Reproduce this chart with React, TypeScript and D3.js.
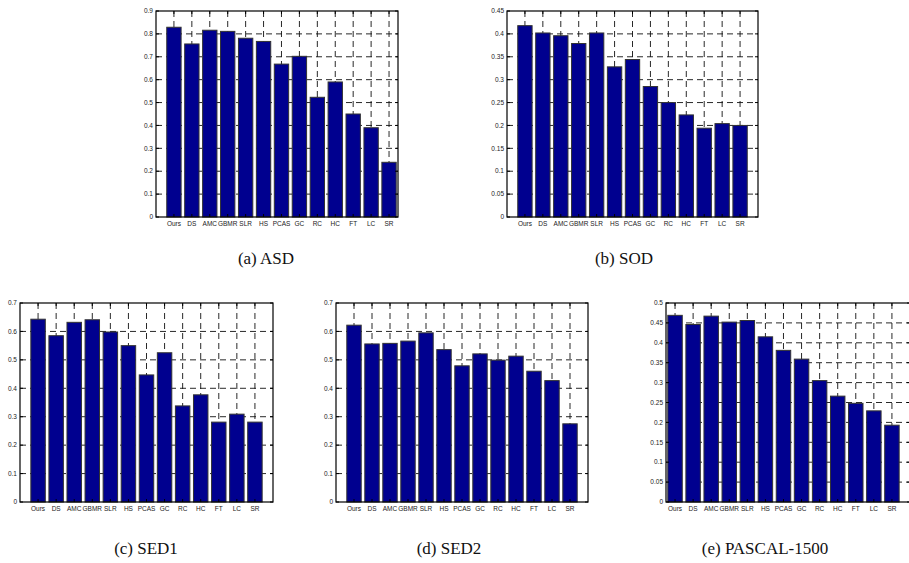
import * as d3 from "d3";

const categories = ["Ours", "DS", "AMC", "GBMR", "SLR", "HS", "PCAS", "GC", "RC", "HC", "FT", "LC", "SR"];

const asdValues = [0.829, 0.756, 0.816, 0.811, 0.781, 0.767, 0.668, 0.702, 0.523, 0.59, 0.45, 0.39, 0.239];
const sodValues = [0.418, 0.402, 0.396, 0.379, 0.402, 0.328, 0.344, 0.285, 0.25, 0.223, 0.194, 0.204, 0.2];
const sed1Values = [0.643, 0.585, 0.632, 0.641, 0.598, 0.55, 0.447, 0.525, 0.338, 0.377, 0.281, 0.309, 0.281];
const sed2Values = [0.622, 0.556, 0.558, 0.566, 0.595, 0.536, 0.479, 0.521, 0.499, 0.513, 0.46, 0.427, 0.275];
const pascalValues = [0.469, 0.446, 0.467, 0.452, 0.456, 0.415, 0.381, 0.359, 0.305, 0.266, 0.248, 0.229, 0.193];

const asdTicks = [0, 0.1, 0.2, 0.3, 0.4, 0.5, 0.6, 0.7, 0.8, 0.9];
const sodTicks = [0, 0.05, 0.1, 0.15, 0.2, 0.25, 0.3, 0.35, 0.4, 0.45];
const sedTicks = [0, 0.1, 0.2, 0.3, 0.4, 0.5, 0.6, 0.7];
const pascalTicks = [0, 0.05, 0.1, 0.15, 0.2, 0.25, 0.3, 0.35, 0.4, 0.45, 0.5];

const captions = ["(a) ASD", "(b) SOD", "(c) SED1", "(d) SED2", "(e) PASCAL-1500"];

// panel boxes + x limits (matlab style xlim)
const layout = [
  { left: 156, right: 398, top: 11, bottom: 217, xlim: [0, 13.5], cx: 266, cy: 264 },
  { left: 507, right: 758, top: 11, bottom: 217, xlim: [0, 14], cx: 624, cy: 264 },
  { left: 20, right: 273, top: 303, bottom: 502, xlim: [0, 14], cx: 146, cy: 554 },
  { left: 336, right: 588, top: 303, bottom: 502, xlim: [0, 14], cx: 449, cy: 554 },
  { left: 666, right: 910, top: 303, bottom: 502, xlim: [0.5, 14], cx: 765, cy: 554 },
];

const panels = [
  { values: asdValues, ticks: asdTicks },
  { values: sodValues, ticks: sodTicks },
  { values: sed1Values, ticks: sedTicks },
  { values: sed2Values, ticks: sedTicks },
  { values: pascalValues, ticks: pascalTicks },
];

const fmt = (v: number) => (v === 0 ? "0" : String(+v.toFixed(2)));
const sans = "'Liberation Sans', Arial, sans-serif";
const serif = "'Liberation Serif', 'Times New Roman', serif";

function Panel({ values, ticks, box, caption }: any) {
  const x = d3.scaleLinear().domain(box.xlim).range([box.left, box.right]);
  const y = d3
    .scaleLinear()
    .domain([0, ticks[ticks.length - 1]])
    .range([box.bottom, box.top]);
  const idx = categories.map((_, i) => i + 1);
  const bw = x(0.8) - x(0);
  const tl = 3;
  const dash = "6,4";
  return (
    <g>
      {/* grid */}
      {ticks.slice(1, -1).map((t: number) => (
        <line key={"h" + t} x1={box.left} x2={box.right} y1={y(t)} y2={y(t)} stroke="#111" strokeWidth={0.9} strokeDasharray={dash} />
      ))}
      {idx.map((i) => (
        <line key={"v" + i} x1={x(i)} x2={x(i)} y1={box.top} y2={box.bottom} stroke="#111" strokeWidth={0.9} strokeDasharray={dash} />
      ))}
      {/* bars */}
      {values.map((v: number, i: number) => (
        <rect
          key={i}
          x={x(i + 1) - bw / 2}
          y={y(v)}
          width={bw}
          height={y(0) - y(v)}
          fill="#00008F"
          stroke="#333"
          strokeWidth={1}
        />
      ))}
      {/* ticks */}
      {ticks.map((t: number) => (
        <g key={"t" + t}>
          <line x1={box.left} x2={box.left + tl} y1={y(t)} y2={y(t)} stroke="#000" />
          <line x1={box.right} x2={box.right - tl} y1={y(t)} y2={y(t)} stroke="#000" />
          <text x={box.left - 3} y={y(t)} dy="0.35em" textAnchor="end" fontSize={6.5} fontFamily={sans} fill="#222">
            {fmt(t)}
          </text>
        </g>
      ))}
      {idx.map((i) => (
        <g key={"b" + i}>
          <line x1={x(i)} x2={x(i)} y1={box.bottom} y2={box.bottom - tl} stroke="#000" />
          <line x1={x(i)} x2={x(i)} y1={box.top} y2={box.top + tl} stroke="#000" />
          <text x={x(i)} y={box.bottom + 9} textAnchor="middle" fontSize={6.5} fontFamily={sans} fill="#222">
            {categories[i - 1]}
          </text>
        </g>
      ))}
      <rect x={box.left} y={box.top} width={box.right - box.left} height={box.bottom - box.top} fill="none" stroke="#000" strokeWidth={1.2} />
      <text x={box.cx} y={box.cy} textAnchor="middle" fontSize={17} fontFamily={serif} fill="#111">
        {caption}
      </text>
    </g>
  );
}

export default function App() {
  return (
    <div style={{ position: "absolute", left: 0, top: 0 }}>
      <svg width={909} height={563} style={{ display: "block", background: "#fff" }}>
        {panels.map((p, i) => (
          <Panel key={i} values={p.values} ticks={p.ticks} box={layout[i]} caption={captions[i]} />
        ))}
      </svg>
    </div>
  );
}
